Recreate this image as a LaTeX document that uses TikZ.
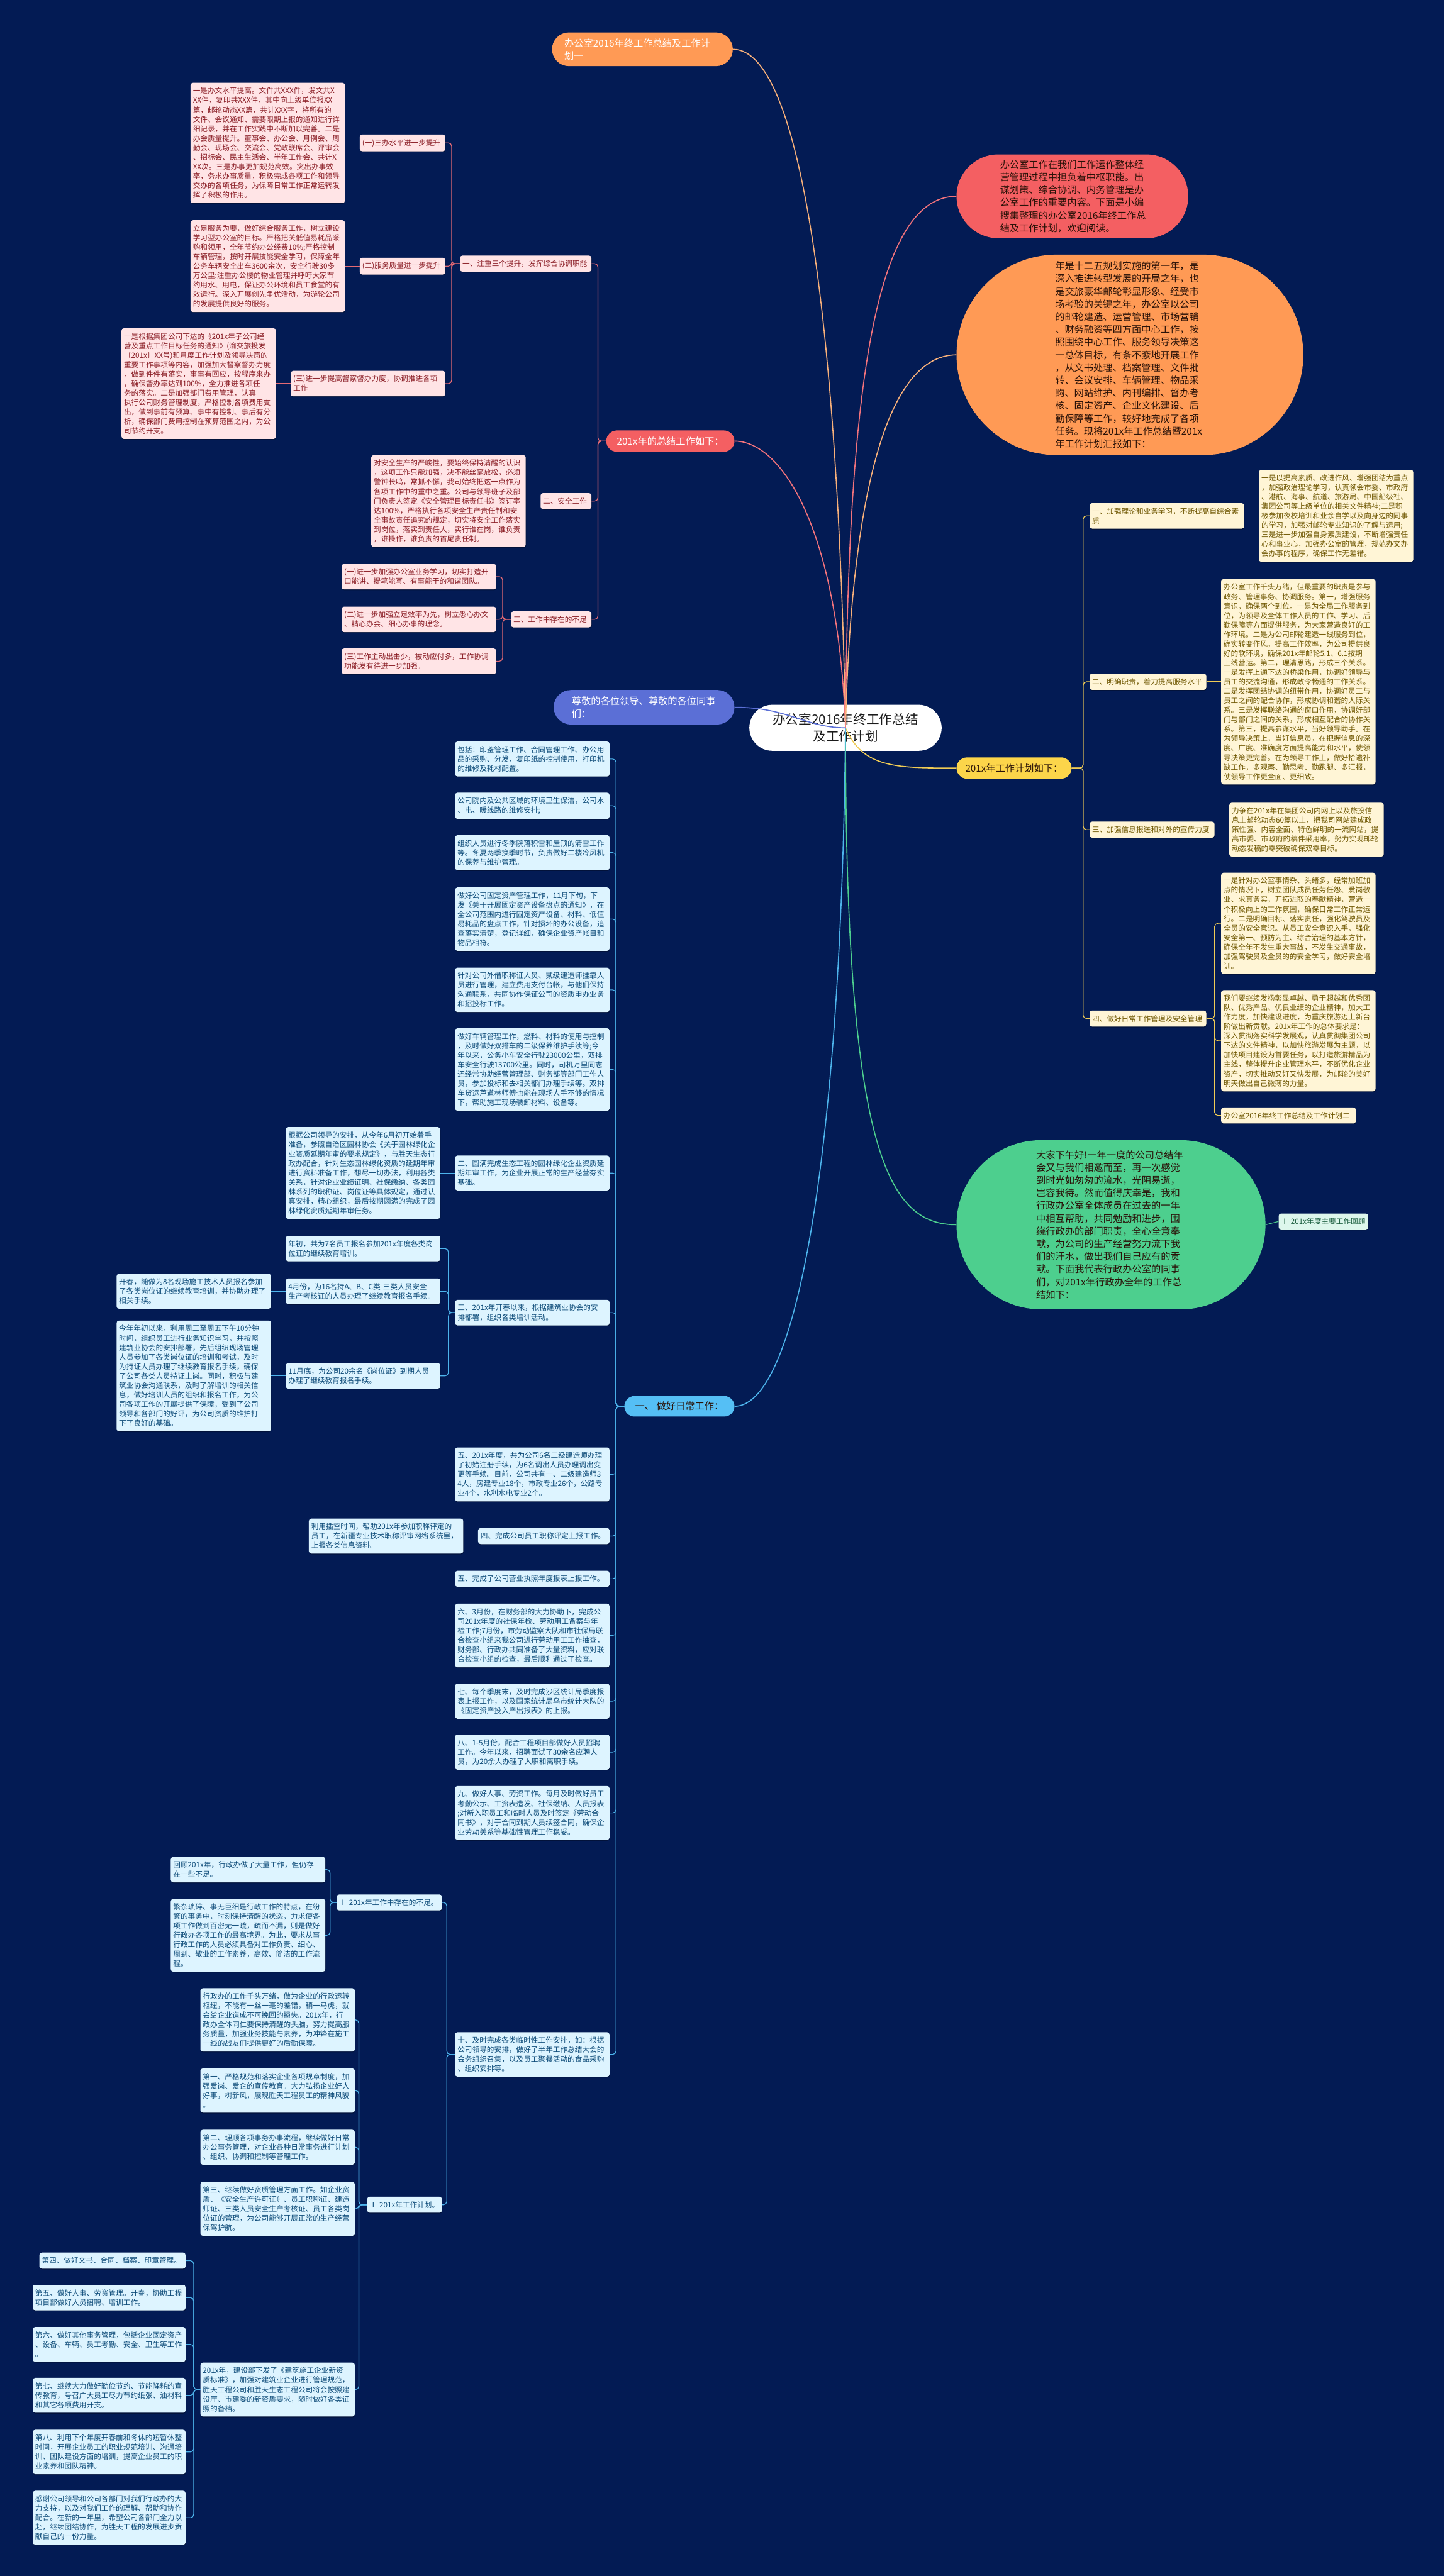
\documentclass[tikz,border=0pt]{standalone}
\usepackage{fontspec}
\setmainfont{Noto Sans CJK SC}
\usetikzlibrary{shadows}
\definecolor{bgnavy}{HTML}{031B54}
\definecolor{toporange}{HTML}{FF9A55}
\definecolor{redpill}{HTML}{F45F62}
\definecolor{greetfill}{HTML}{5B6FD6}
\definecolor{yelpill}{HTML}{FCD54A}
\definecolor{greenpill}{HTML}{4DCF8E}
\definecolor{bluepill}{HTML}{55BFF5}
\definecolor{roottext}{HTML}{1A1A1A}
\definecolor{darktext}{HTML}{2A1208}
\definecolor{pinkfill}{HTML}{FFE4E6}
\definecolor{pinktext}{HTML}{8A1C24}
\definecolor{pinkline}{HTML}{E46A74}
\definecolor{yelfill}{HTML}{FFF5D6}
\definecolor{yeltext}{HTML}{6E5600}
\definecolor{yelline}{HTML}{EFCB55}
\definecolor{bluefill}{HTML}{DDF4FF}
\definecolor{bluetext}{HTML}{0C4A78}
\definecolor{blueline}{HTML}{4DB4EC}
\definecolor{mintfill}{HTML}{DDF7EC}
\definecolor{minttext}{HTML}{1B5E3F}
\definecolor{greenline}{HTML}{4DCF8E}
\definecolor{lineorange}{HTML}{F7B07A}
\definecolor{linered}{HTML}{F2737C}
\newcommand{\leaffont}{\fontsize{12.7pt}{16.4pt}\selectfont}
\newcommand{\branchfont}{\fontsize{16.6pt}{22pt}\selectfont}
\newcommand{\rootfont}{\fontsize{22.5pt}{29pt}\selectfont}
\tikzset{
  leafbox/.style={rectangle,rounded corners=1.5mm,inner xsep=1.5mm,inner ysep=2.8mm,align=left,font=\leaffont,text width=#1,
    drop shadow={shadow xshift=0.2mm,shadow yshift=-0.5mm,opacity=0.3,fill=black}},
  pinkbox/.style={leafbox=#1,fill=pinkfill,text=pinktext},
  yelbox/.style={leafbox=#1,fill=yelfill,text=yeltext},
  bluebox/.style={leafbox=#1,fill=bluefill,text=bluetext},
  mintbox/.style={leafbox=#1,fill=mintfill,text=minttext},
  pill/.style={rectangle,rounded corners=#1,inner sep=0pt,font=\branchfont,align=left},
  rootline/.style={draw=#1,line width=1.8pt},
  pinkedge/.style={draw=pinkline,line width=1.3pt,rounded corners=2mm},
  yeledge/.style={draw=yelline,line width=1.3pt,rounded corners=2mm},
  blueedge/.style={draw=blueline,line width=1.3pt,rounded corners=2mm},
  greenedge/.style={draw=greenline,line width=1.3pt,rounded corners=2mm}
}
\begin{document}
\begin{tikzpicture}[x=1mm,y=-1mm]
\fill[bgnavy] (0,0) rectangle (879,1568);
\useasboundingbox (0,0) rectangle (879,1568);

% centre and main branches
\node[pill=14mm,fill=white,text=roottext,font=\rootfont,align=center,minimum width=117mm,minimum height=28mm] (root) at (514.5,443) {办公室2016年终工作总结\\及工作计划};
\node[pill=10.25mm,fill=toporange,text=white,minimum width=110mm,minimum height=20.5mm,text width=95mm,anchor=east] (planone) at (446,30) {办公室2016年终工作总结及工作计\\划一};
\node[pill=25.5mm,fill=redpill,text=darktext,minimum width=141mm,minimum height=51mm,text width=88mm,anchor=west] (intro) at (582,119.5) {办公室工作在我们工作运作整体经\\营管理过程中担负着中枢职能。出\\谋划策、综合协调、内务管理是办\\公室工作的重要内容。下面是小编\\搜集整理的办公室2016年终工作总\\结及工作计划，欢迎阅读。};
\node[pill=61mm,fill=toporange,text=darktext,minimum width=211mm,minimum height=122mm,text width=91mm,anchor=west] (review) at (582,216) {年是十二五规划实施的第一年，是\\深入推进转型发展的开局之年，也\\是交旅豪华邮轮彰显形象、经受市\\场考验的关键之年，办公室以公司\\的邮轮建造、运营管理、市场营销\\、财务融资等四方面中心工作，按\\照围绕中心工作、服务领导决策这\\一总体目标，有条不紊地开展工作\\，从文书处理、档案管理、文件批\\转、会议安排、车辆管理、物品采\\购、网站维护、内刊编排、督办考\\核、固定资产、企业文化建设、后\\勤保障等工作，较好地完成了各项\\任务。现将201x年工作总结暨201x\\年工作计划汇报如下：};
\node[pill=6.5mm,fill=redpill,text=white,minimum width=78mm,minimum height=13mm,anchor=east] (summary) at (447,268.5) {201x年的总结工作如下：};
\node[pill=10.5mm,fill=greetfill,text=white,minimum width=110mm,minimum height=21mm,text width=88mm,anchor=east] (greeting) at (447,430.5) {尊敬的各位领导、尊敬的各位同事\\们：};
\node[pill=6.5mm,fill=yelpill,text=darktext,minimum width=70mm,minimum height=13mm,anchor=west] (plan) at (582,467.5) {201x年工作计划如下：};
\node[pill=51.5mm,fill=greenpill,text=darktext,minimum width=188mm,minimum height=103mm,text width=91mm,anchor=west] (speech) at (582,745.5) {大家下午好!一年一度的公司总结年\\会又与我们相邀而至，再一次感觉\\到时光如匆匆的流水，光阴易逝，\\岂容我待。然而值得庆幸是，我和\\行政办公室全体成员在过去的一年\\中相互帮助，共同勉励和进步，围\\绕行政办的部门职责，全心全意奉\\献，为公司的生产经营努力流下我\\们的汗水，做出我们自己应有的贡\\献。下面我代表行政办公室的同事\\们，对201x年行政办全年的工作总\\结如下：};
\node[pill=6.25mm,fill=bluepill,text=darktext,minimum width=67mm,minimum height=12.5mm,anchor=east] (daily) at (447,856) {一、 做好日常工作：};
\node[mintbox=51.5mm,anchor=west] (recap) at (778,743.5) {Ⅰ 201x年度主要工作回顾};

% summary branch
\node[pinkbox=77mm,anchor=east] (upgrade) at (360,160.5) {一、注重三个提升，发挥综合协调职能};
\node[pinkbox=49mm,anchor=east] (upone) at (271,87) {(一)三办水平进一步提升};
\node[pinkbox=49mm,anchor=east] (uptwo) at (271,162) {(二)服务质量进一步提升};
\node[pinkbox=91mm,anchor=east] (upthree) at (271,233.5) {(三)进一步提高督察督办力度，协调推进各项\\工作};
\node[pinkbox=91mm,anchor=east] (uponeleaf) at (210,87) {一是办文水平提高。文件共XXX件，发文共X\\XX件，复印共XXX件，其中向上级单位报XX\\篇，邮轮动态XX篇，共计XXX字，将所有的\\文件、会议通知、需要限期上报的通知进行详\\细记录，并在工作实践中不断加以完善。二是\\办会质量提升。董事会、办公会、月例会、周\\勤会、现场会、交流会、党政联席会、评审会\\、招标会、民主生活会、半年工作会、共计X\\XX次。三是办事更加规范高效。突出办事效\\率，务求办事质量，积极完成各项工作和领导\\交办的各项任务，为保障日常工作正常运转发\\挥了积极的作用。};
\node[pinkbox=91mm,anchor=east] (uptwoleaf) at (210,162) {立足服务为要，做好综合服务工作，树立建设\\学习型办公室的目标。严格把关低值易耗品采\\购和领用，全年节约办公经费10\%;严格控制\\车辆管理，按时开展技能安全学习，保障全年\\公务车辆安全出车3600余次，安全行驶30多\\万公里;注重办公楼的物业管理并呼吁大家节\\约用水、用电，保证办公环境和员工食堂的有\\效运行。深入开展创先争优活动，为游轮公司\\的发展提供良好的服务。};
\node[pinkbox=91mm,anchor=east] (upthreeleaf) at (168,233.5) {一是根据集团公司下达的《201x年子公司经\\营及重点工作目标任务的通知》(渝交旅投发\\〔201x〕XX号)和月度工作计划及领导决策的\\重要工作事项等内容，加强加大督察督办力度\\，做到件件有落实，事事有回应，按程序来办\\，确保督办率达到100\%，全力推进各项任\\务的落实。二是加强部门费用管理，认真\\执行公司财务管理制度，严格控制各项费用支\\出，做到事前有预算、事中有控制、事后有分\\析，确保部门费用控制在预算范围之内，为公\\司节约开支。};
\node[pinkbox=28mm,anchor=east] (safety) at (360,305) {二、安全工作};
\node[pinkbox=91mm,anchor=east] (safetyleaf) at (320,305) {对安全生产的严峻性，要始终保持清醒的认识\\，这项工作只能加强，决不能丝毫放松，必须\\警钟长鸣，常抓不懈，我司始终把这一点作为\\各项工作中的重中之重。公司与领导班子及部\\门负责人签定《安全管理目标责任书》签订率\\达100\%，严格执行各项安全生产责任制和安\\全事故责任追究的规定，切实将安全工作落实\\到岗位，落实到责任人，实行谁在岗，谁负责\\，谁操作，谁负责的首尾责任制。};
\node[pinkbox=46mm,anchor=east] (lack) at (360,377) {三、工作中存在的不足};
\node[pinkbox=91mm,anchor=east] (lackone) at (302,351) {(一)进一步加强办公室业务学习，切实打造开\\口能讲、提笔能写、有事能干的和谐团队。};
\node[pinkbox=91mm,anchor=east] (lacktwo) at (302,377) {(二)进一步加强立足效率为先，树立悉心办文\\、精心办会、细心办事的理念。};
\node[pinkbox=91mm,anchor=east] (lackthree) at (302,402.5) {(三)工作主动出击少，被动应付多，工作协调\\功能发有待进一步加强。};

% plan branch
\node[yelbox=91mm,anchor=west] (study) at (663,314) {一、加强理论和业务学习，不断提高自综合素\\质};
\node[yelbox=91mm,anchor=west] (studyleaf) at (766,314) {一是以提高素质、改进作风、增强团结为重点\\，加强政治理论学习，认真领会市委、市政府\\、港航、海事、航道、旅游局、中国船级社、\\集团公司等上级单位的相关文件精神;二是积\\极参加夜校培训和业余自学以及向身边的同事\\的学习，加强对邮轮专业知识的了解与运用;\\三是进一步加强自身素质建设，不断增强责任\\心和事业心，加强办公室的管理，规范办文办\\会办事的程序，确保工作无差错。};
\node[yelbox=68mm,anchor=west] (duty) at (663,415) {二、明确职责，着力提高服务水平};
\node[yelbox=91mm,anchor=west] (dutyleaf) at (743,415) {办公室工作千头万绪，但最重要的职责是参与\\政务、管理事务、协调服务。第一，增强服务\\意识，确保两个到位。一是为全局工作服务到\\位，为领导及全体工作人员的工作、学习、后\\勤保障等方面提供服务，为大家营造良好的工\\作环境。二是为公司邮轮建造一线服务到位，\\确实转变作风，提高工作效率，为公司提供良\\好的软环境，确保201x年邮轮5.1、6.1按期\\上线营运。第二，理清思路，形成三个关系。\\一是发挥上通下达的桥梁作用，协调好领导与\\员工的交流沟通，形成政令畅通的工作关系。\\二是发挥团结协调的纽带作用，协调好员工与\\员工之间的配合协作，形成协调和谐的人际关\\系。三是发挥联络沟通的窗口作用，协调好部\\门与部门之间的关系，形成相互配合的协作关\\系。第三，提高参谋水平，当好领导助手。在\\为领导决策上，当好信息员，在把握信息的深\\度、广度、准确度方面提高能力和水平，使领\\导决策更完善。在为领导工作上，做好拾遗补\\缺工作，多观察、勤思考、勤跑腿、多汇报，\\使领导工作更全面、更细致。};
\node[yelbox=73mm,anchor=west] (publicity) at (663,505) {三、加强信息报送和对外的宣传力度};
\node[yelbox=91mm,anchor=west] (publicityleaf) at (748,505) {力争在201x年在集团公司内网上以及旅投信\\息上邮轮动态60篇以上，把我司网站建成政\\策性强、内容全面、特色鲜明的一流网站，提\\高市委、市政府的稿件采用率，努力实现邮轮\\动态发稿的零突破确保双零目标。};
\node[yelbox=68mm,anchor=west] (safemgmt) at (663,620) {四、做好日常工作管理及安全管理};
\node[yelbox=91mm,anchor=west] (safeone) at (743,562) {一是针对办公室事情杂、头绪多，经常加班加\\点的情况下，树立团队成员任劳任怨、爱岗敬\\业、求真务实，开拓进取的奉献精神，营造一\\个积极向上的工作氛围，确保日常工作正常运\\行。二是明确目标、落实责任，强化驾驶员及\\全员的安全意识。从员工安全意识入手，强化\\安全第一、预防为主、综合治理的基本方针，\\确保全年不发生重大事故，不发生交通事故，\\加强驾驶员及全员的的安全学习，做好安全培\\训。};
\node[yelbox=91mm,anchor=west] (safetwo) at (743,633.5) {我们要继续发扬彰显卓越、勇于超越和优秀团\\队、优秀产品、优良业绩的企业精神，加大工\\作力度，加快建设进度，为重庆旅游迈上新台\\阶做出新贡献。201x年工作的总体要求是：\\深入贯彻落实科学发展观，认真贯彻集团公司\\下达的文件精神，以加快旅游发展为主题，以\\加快项目建设为首要任务，以打造旅游精品为\\主线，整体提升企业管理水平，不断优化企业\\资产，切实推动又好又快发展，为邮轮的美好\\明天做出自己微薄的力量。};
\node[yelbox=79mm,anchor=west] (plantwo) at (743,679) {办公室2016年终工作总结及工作计划二};

% daily work branch
\node[bluebox=91mm,anchor=east] (seal) at (371,462) {包括：印鉴管理工作、合同管理工作、办公用\\品的采购、分发，复印纸的控制使用，打印机\\的维修及耗材配置。};
\node[bluebox=91mm,anchor=east] (clean) at (371,490.5) {公司院内及公共区域的环境卫生保洁，公司水\\、电、暖线路的维修安排;};
\node[bluebox=91mm,anchor=east] (snow) at (371,519) {组织人员进行冬季院落积雪和屋顶的清雪工作\\等。冬夏两季换季时节，负责做好二楼冷风机\\的保养与维护管理。};
\node[bluebox=91mm,anchor=east] (asset) at (371,559.5) {做好公司固定资产管理工作，11月下旬，下\\发《关于开展固定资产设备盘点的通知》，在\\全公司范围内进行固定资产设备、材料、低值\\易耗品的盘点工作，针对损坏的办公设备，追\\查落实清楚，登记详细，确保企业资产帐目和\\物品相符。};
\node[bluebox=91mm,anchor=east] (cert) at (371,602.5) {针对公司外借职称证人员、贰级建造师挂靠人\\员进行管理，建立费用支付台帐，与他们保持\\沟通联系，共同协作保证公司的资质申办业务\\和招投标工作。};
\node[bluebox=91mm,anchor=east] (vehicle) at (371,651) {做好车辆管理工作，燃料、材料的使用与控制\\，及时做好双排车的二级保养维护手续等;今\\年以来，公务小车安全行驶23000公里，双排\\车安全行驶13700公里。同时，司机万里同志\\还经常协助经营管理部、财务部等部门工作人\\员，参加投标和去相关部门办理手续等。双排\\车货运芦道林师傅也能在现场人手不够的情况\\下，帮助施工现场装卸材料、设备等。};
\node[bluebox=91mm,anchor=east] (garden) at (371,714) {二、圆满完成生态工程的园林绿化企业资质延\\期年审工作，为企业开展正常的生产经营夯实\\基础。};
\node[bluebox=91mm,anchor=east] (gardenleaf) at (268,714) {根据公司领导的安排，从今年6月初开始着手\\准备，参照自治区园林协会《关于园林绿化企\\业资质延期年审的要求规定》，与胜天生态行\\政办配合，针对生态园林绿化资质的延期年审\\进行资料准备工作，想尽一切办法，利用各类\\关系，针对企业业绩证明、社保缴纳、各类园\\林系列的职称证、岗位证等具体规定，通过认\\真安排，精心组织，最后按期圆满的完成了园\\林绿化资质延期年审任务。};
\node[bluebox=91mm,anchor=east] (train) at (371,799) {三、201x年开春以来，根据建筑业协会的安\\排部署，组织各类培训活动。};
\node[bluebox=91mm,anchor=east] (trainone) at (268,760) {年初，共为7名员工报名参加201x年度各类岗\\位证的继续教育培训。};
\node[bluebox=91mm,anchor=east] (traintwo) at (268,786) {4月份，为16名持A、B、C类 三类人员安全\\生产考核证的人员办理了继续教育报名手续。};
\node[bluebox=91mm,anchor=east] (traintwoleaf) at (165,786) {开春，随做为8名现场施工技术人员报名参加\\了各类岗位证的继续教育培训，并协助办理了\\相关手续。};
\node[bluebox=91mm,anchor=east] (trainthree) at (268,837.5) {11月底，为公司20余名《岗位证》到期人员\\办理了继续教育报名手续。};
\node[bluebox=91mm,anchor=east] (trainthreeleaf) at (165,837.5) {今年年初以来，利用周三至周五下午10分钟\\时间，组织员工进行业务知识学习，并按照\\建筑业协会的安排部署，先后组织现场管理\\人员参加了各类岗位证的培训和考试，及时\\为持证人员办理了继续教育报名手续，确保\\了公司各类人员持证上岗。同时，积极与建\\筑业协会沟通联系，及时了解培训的相关信\\息，做好培训人员的组织和报名工作，为公\\司各项工作的开展提供了保障，受到了公司\\领导和各部门的好评，为公司资质的维护打\\下了良好的基础。};
\node[bluebox=91mm,anchor=east] (builder) at (371,897.5) {五、201x年度，共为公司6名二级建造师办理\\了初始注册手续，为6名调出人员办理调出变\\更等手续。目前，公司共有一、二级建造师3\\4人，房建专业18个，市政专业26个，公路专\\业4个，水利水电专业2个。};
\node[bluebox=77mm,anchor=east] (title) at (371,935) {四、完成公司员工职称评定上报工作。};
\node[bluebox=91mm,anchor=east] (titleleaf) at (282,935) {利用插空时间，帮助201x年参加职称评定的\\员工，在新疆专业技术职称评审网络系统里，\\上报各类信息资料。};
\node[bluebox=91mm,anchor=east] (license) at (371,961) {五、完成了公司营业执照年度报表上报工作。};
\node[bluebox=91mm,anchor=east] (social) at (371,995.5) {六、3月份，在财务部的大力协助下，完成公\\司201x年度的社保年检、劳动用工备案与年\\检工作;7月份，市劳动监察大队和市社保局联\\合检查小组来我公司进行劳动用工工作抽查，\\财务部、行政办共同准备了大量资料，应对联\\合检查小组的检查，最后顺利通过了检查。};
\node[bluebox=91mm,anchor=east] (stats) at (371,1035.5) {七、每个季度末，及时完成沙区统计局季度报\\表上报工作，以及国家统计局乌市统计大队的\\《固定资产投入产出报表》的上报。};
\node[bluebox=91mm,anchor=east] (recruit) at (371,1066.5) {八、1-5月份，配合工程项目部做好人员招聘\\工作。今年以来，招聘面试了30余名应聘人\\员，为20余人办理了入职和离职手续。};
\node[bluebox=91mm,anchor=east] (personnel) at (371,1103.5) {九、做好人事、劳资工作。每月及时做好员工\\考勤公示、工资表造发、社保缴纳、人员报表\\;对新入职员工和临时人员及时签定《劳动合\\同书》，对于合同到期人员续签合同，确保企\\业劳动关系等基础性管理工作稳妥。};
\node[bluebox=91mm,anchor=east] (temp) at (371,1250.5) {十、及时完成各类临时性工作安排，如：根据\\公司领导的安排，做好了半年工作总结大会的\\会务组织召集，以及员工聚餐活动的食品采购\\、组织安排等。};
\node[bluebox=61mm,anchor=east] (shortfall) at (269,1158) {Ⅰ 201x年工作中存在的不足。};
\node[bluebox=91mm,anchor=east] (shortone) at (198,1138) {回顾201x年，行政办做了大量工作，但仍存\\在一些不足。};
\node[bluebox=91mm,anchor=east] (shorttwo) at (198,1178) {繁杂琐碎、事无巨细是行政工作的特点，在纷\\繁的事务中，时刻保持清醒的状态，力求使各\\项工作做到百密无一疏，疏而不漏，则是做好\\行政办各项工作的最高境界。为此，要求从事\\行政工作的人员必须具备对工作负责、细心、\\周到、敬业的工作素养，高效、简洁的工作流\\程。};
\node[bluebox=42.5mm,anchor=east] (nextplan) at (269,1342) {Ⅰ 201x年工作计划。};
\node[bluebox=91mm,anchor=east] (planintro) at (216,1229.5) {行政办的工作千头万绪，做为企业的行政运转\\枢纽，不能有一丝一毫的差错，稍一马虎，就\\会给企业造成不可挽回的损失。201x年，行\\政办全体同仁要保持清醒的头脑，努力提高服\\务质量，加强业务技能与素养，为冲锋在施工\\一线的战友们提供更好的后勤保障。};
\node[bluebox=91mm,anchor=east] (planfirst) at (216,1272.5) {第一、严格规范和落实企业各项规章制度，加\\强爱岗、爱企的宣传教育。大力弘扬企业好人\\好事，树新风，展现胜天工程员工的精神风貌\\。};
\node[bluebox=91mm,anchor=east] (plansecond) at (216,1307) {第二、理顺各项事务办事流程，继续做好日常\\办公事务管理，对企业各种日常事务进行计划\\、组织、协调和控制等管理工作。};
\node[bluebox=91mm,anchor=east] (planthird) at (216,1344.5) {第三、继续做好资质管理方面工作。如企业资\\质、《安全生产许可证》、员工职称证、建造\\师证、三类人员安全生产考核证、员工各类岗\\位证的管理，为公司能够开展正常的生产经营\\保驾护航。};
\node[bluebox=91mm,anchor=east] (planrule) at (216,1454.5) {201x年，建设部下发了《建筑施工企业新资\\质标准》，加强对建筑业企业进行管理规范，\\胜天工程公司和胜天生态工程公司将会按照建\\设厅、市建委的新资质要求，随时做好各类证\\照的备档。};
\node[bluebox=86mm,anchor=east] (rulefour) at (113,1376) {第四、做好文书、合同、档案、印章管理。};
\node[bluebox=90mm,anchor=east] (rulefive) at (113,1398.5) {第五、做好人事、劳资管理。开春，协助工程\\项目部做好人员招聘、培训工作。};
\node[bluebox=90mm,anchor=east] (rulesix) at (113,1427) {第六、做好其他事务管理，包括企业固定资产\\、设备、车辆、员工考勤、安全、卫生等工作\\。};
\node[bluebox=90mm,anchor=east] (ruleseven) at (113,1458) {第七、继续大力做好勤俭节约、节能降耗的宣\\传教育，号召广大员工尽力节约纸张、油材料\\和其它各项费用开支。};
\node[bluebox=90mm,anchor=east] (ruleeight) at (113,1492.5) {第八、利用下个年度开春前和冬休的短暂休整\\时间，开展企业员工的职业规范培训、沟通培\\训、团队建设方面的培训，提高企业员工的职\\业素养和团队精神。};
\node[bluebox=90mm,anchor=east] (thanks) at (113,1532.5) {感谢公司领导和公司各部门对我们行政办的大\\力支持，以及对我们工作的理解、帮助和协作\\配合。在新的一年里，希望公司各部门全力以\\赴，继续团结协作，为胜天工程的发展进步贡\\献自己的一份力量。};

% connectors from the centre
\draw[rootline=lineorange] (root.center) .. controls (510,200) and (488,30) .. (planone.east);
\draw[rootline=linered] (root.center) .. controls (516,250) and (530,119.5) .. (intro.west);
\draw[rootline=lineorange] (root.center) .. controls (518,300) and (540,216) .. (review.west);
\draw[rootline=linered] (root.center) .. controls (510,320) and (475,268.5) .. (summary.east);
\draw[rootline=greetfill] (root.center) .. controls (490,443) and (480,430.5) .. (greeting.east);
\draw[rootline=yelline] (root.center) .. controls (525,467.5) and (545,467.5) .. (plan.west);
\draw[rootline=greenline] (root.center) .. controls (514.5,700) and (540,745.5) .. (speech.west);
\draw[rootline=blueline] (root.center) .. controls (512,700) and (485,856) .. (daily.east);
\draw[greenedge] (speech.east) -- (recap.west);

% summary branch
\foreach \n in {upgrade,safety,lack}
  \draw[pinkedge] (summary.west) -- ++(-5,0) |- (\n.east);
\foreach \n in {upone,uptwo,upthree}
  \draw[pinkedge] (upgrade.west) -- ++(-5,0) |- (\n.east);
\draw[pinkedge] (upone.west) -- (uponeleaf.east);
\draw[pinkedge] (uptwo.west) -- (uptwoleaf.east);
\draw[pinkedge] (upthree.west) -- (upthreeleaf.east);
\draw[pinkedge] (safety.west) -- (safetyleaf.east);
\foreach \n in {lackone,lacktwo,lackthree}
  \draw[pinkedge] (lack.west) -- ++(-5,0) |- (\n.east);

% plan branch
\foreach \n in {study,duty,publicity,safemgmt}
  \draw[yeledge] (plan.east) -- ++(7,0) |- (\n.west);
\draw[yeledge] (study.east) -- (studyleaf.west);
\draw[yeledge] (duty.east) -- (dutyleaf.west);
\draw[yeledge] (publicity.east) -- (publicityleaf.west);
\foreach \n in {safeone,safetwo,plantwo}
  \draw[yeledge] (safemgmt.east) -- ++(5,0) |- (\n.west);

% daily work branch
\foreach \n in {seal,clean,snow,asset,cert,vehicle,garden,train,builder,title,license,social,stats,recruit,personnel,temp}
  \draw[blueedge] (daily.west) -- ++(-5,0) |- (\n.east);
\draw[blueedge] (garden.west) -- (gardenleaf.east);
\foreach \n in {trainone,traintwo,trainthree}
  \draw[blueedge] (train.west) -- ++(-4,0) |- (\n.east);
\draw[blueedge] (traintwo.west) -- (traintwoleaf.east);
\draw[blueedge] (trainthree.west) -- (trainthreeleaf.east);
\draw[blueedge] (title.west) -- (titleleaf.east);
\foreach \n in {shortfall,nextplan}
  \draw[blueedge] (temp.west) -- ++(-5,0) |- (\n.east);
\foreach \n in {shortone,shorttwo}
  \draw[blueedge] (shortfall.west) -- ++(-4,0) |- (\n.east);
\foreach \n in {planintro,planfirst,plansecond,planthird,planrule}
  \draw[blueedge] (nextplan.west) -- ++(-5,0) |- (\n.east);
\foreach \n in {rulefour,rulefive,rulesix,ruleseven,ruleeight,thanks}
  \draw[blueedge] (planrule.west) -- ++(-4,0) |- (\n.east);
\end{tikzpicture}
\end{document}
